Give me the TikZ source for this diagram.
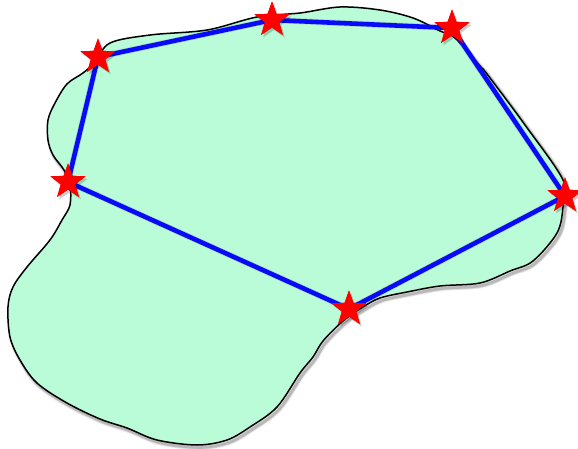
\documentclass[tikz,border=0pt]{standalone}
\usetikzlibrary{shapes.geometric,shadows}
\definecolor{blobfill}{RGB}{186,252,216}
\definecolor{polyblue}{RGB}{10,10,250}
\tikzset{
  vstar/.style={star, star points=5, star point ratio=2.45, fill=red, draw=none,
    minimum size=37pt, inner sep=0pt},
  vstarshadow/.style={star, star points=5, star point ratio=2.45, fill=black, draw=none,
    minimum size=37pt, inner sep=0pt, opacity=0.2},
  edge/.style={draw=polyblue, line width=4.6pt},
  blob/.style={draw=black, line width=1.5pt, fill=blobfill},
}
\begin{document}
\begin{tikzpicture}[x=1pt,y=-1pt]
\useasboundingbox (0,0) rectangle (578,449);
\def\blobpath{plot[smooth cycle, tension=0.55] coordinates {
 (110,43) (150,35) (207,30) (257,17) (300,13) (340,7) (380,10) (413,18) (440,31) (455,38)
 (480,66) (487,74) (525,125) (563,180) (563,207) (557,233) (533,261) (510,271) (480,283)
 (440,286) (407,292) (380,298) (363,307) (343,321) (323,341) (313,357) (300,373)
 (277,407) (250,427) (227,440) (197,445) (157,440) (127,428) (100,419) (67,403)
 (37,383) (20,360) (10,337) (8,307) (13,287) (27,267) (50,240) (62,220) (70,205)
 (70,185) (64,170) (53,155) (48,140) (48,120) (55,103) (67,84) (83,73) (95,62)}}
% shadow of blob
\foreach \s/\o in {4/0.06,2.5/0.1,1.2/0.15}{
  \draw[line width=1.5pt+\s pt, black, opacity=\o, shift={(2,2.5)}] \blobpath;
}
\path[blob] \blobpath;
% vertices
\node[vstar] (A) at (98,57) {};
\node[vstar] (B) at (272,20) {};
\node[vstar] (C) at (452,28) {};
\node[vstar] (D) at (565,196) {};
\node[vstar] (E) at (349,309) {};
\node[vstar] (F) at (68,182) {};
% edges with faint shadow
\foreach \a/\b in {A/B,B/C,C/D,D/E,E/F,F/A}{
  \draw[line width=6pt, black, opacity=0.12, shift={(2,2.5)}] (\a.center) -- (\b.center);
}
\foreach \a/\b in {A/B,B/C,C/D,D/E,E/F,F/A}{
  \draw[edge] (\a.center) -- (\b.center);
}
% stars on top
\foreach \n in {A,B,C,D,E,F}{
  \node[vstarshadow] at ([shift={(2,2.5)}]\n) {};
  \node[vstar] at (\n) {};
}
\end{tikzpicture}
\end{document}
